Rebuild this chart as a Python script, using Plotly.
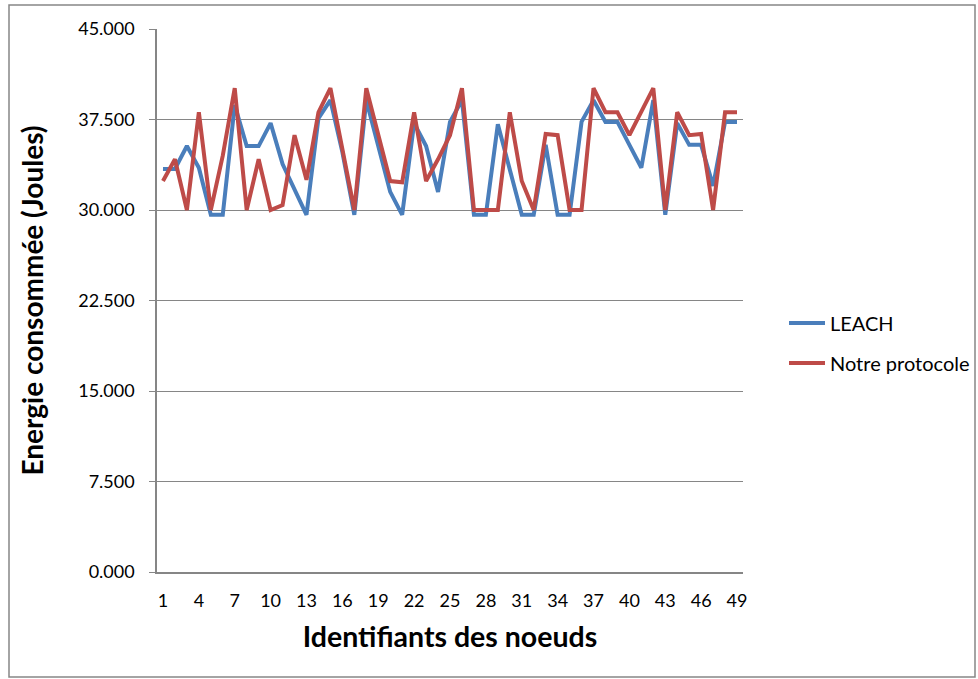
import plotly.graph_objects as go

nodes = list(range(1, 50))
leach = [33.4, 33.4, 35.3, 33.5, 29.6, 29.6, 38.7, 35.3, 35.3, 37.2,
         33.8, 31.6, 29.6, 37.6, 39.1, 34.8, 29.6, 39.1, 35.3, 31.5,
         29.6, 37.2, 35.3, 31.5, 37.3, 39.1, 29.6, 29.6, 37.1, 33.5,
         29.6, 29.6, 35.4, 29.6, 29.6, 37.3, 39.1, 37.3, 37.3, 35.4,
         33.5, 39.1, 29.6, 37.2, 35.4, 35.4, 32.0, 37.3, 37.3]
notre = [32.4, 34.2, 30.0, 38.1, 30.0, 34.5, 40.1, 30.0, 34.2, 30.0,
         30.4, 36.2, 32.5, 38.1, 40.1, 35.0, 30.0, 40.1, 36.2, 32.4,
         32.3, 38.1, 32.4, 34.2, 36.2, 40.1, 30.0, 30.0, 30.0, 38.1,
         32.4, 30.0, 36.3, 36.2, 30.0, 30.0, 40.1, 38.1, 38.1, 36.2,
         38.1, 40.1, 30.0, 38.1, 36.2, 36.3, 30.0, 38.1, 38.1]
xticks = list(range(1, 50, 3))
yticks = [0, 7.5, 15, 22.5, 30, 37.5, 45]

FONT = "Lato"

fig = go.Figure()
fig.add_trace(go.Scatter(x=nodes, y=leach, mode="lines", name="LEACH",
                         line=dict(color="#4A7EBB", width=4), legend="legend"))
fig.add_trace(go.Scatter(x=nodes, y=notre, mode="lines", name="Notre protocole",
                         line=dict(color="#BE4B48", width=4), legend="legend2"))

leg_x = (784 - 157) / 586

fig.update_layout(
    width=978, height=679,
    margin=dict(l=157, r=235, t=29, b=107, autoexpand=False),
    paper_bgcolor="white", plot_bgcolor="white",
    font=dict(family=FONT, color="black", size=18),
    showlegend=True,
    legend=dict(x=leg_x, y=(572 - 323) / 543, yanchor="middle", xanchor="left",
                itemwidth=36, font=dict(size=20, family=FONT), bgcolor="rgba(0,0,0,0)"),
    legend2=dict(x=leg_x, y=(572 - 363) / 543, yanchor="middle", xanchor="left",
                 itemwidth=36, font=dict(size=20, family=FONT), bgcolor="rgba(0,0,0,0)"),
    xaxis=dict(range=[0.5, 49.5], tickmode="array", tickvals=xticks,
               ticktext=[str(v) for v in xticks], showgrid=False,
               showline=True, linecolor="#868686", linewidth=1.5,
               ticks="", ticklabelstandoff=12, tickfont=dict(size=18),
               title=dict(text="<b>Identifiants des noeuds</b>",
                          font=dict(size=28.5, family=FONT), standoff=17),
               zeroline=False),
    yaxis=dict(range=[0, 45], tickmode="array", tickvals=yticks,
               ticktext=["%.3f" % v for v in yticks],
               showgrid=True, gridcolor="#868686", gridwidth=1,
               showline=True, linecolor="#868686", linewidth=1.5,
               ticks="outside", ticklen=6, tickcolor="#868686",
               ticklabelstandoff=11, tickfont=dict(size=18),
               title=dict(text="<b>Energie consommée (Joules)</b>",
                          font=dict(size=28, family=FONT), standoff=26),
               zeroline=False),
)

fig.add_shape(type="rect", xref="paper", yref="paper",
              x0=(9 - 157) / 586, x1=(975 - 157) / 586,
              y0=(572 - 677) / 543, y1=(572 - 5) / 543,
              line=dict(color="#868686", width=1.5), fillcolor="rgba(0,0,0,0)",
              layer="below")

fig.write_html("out.html")
